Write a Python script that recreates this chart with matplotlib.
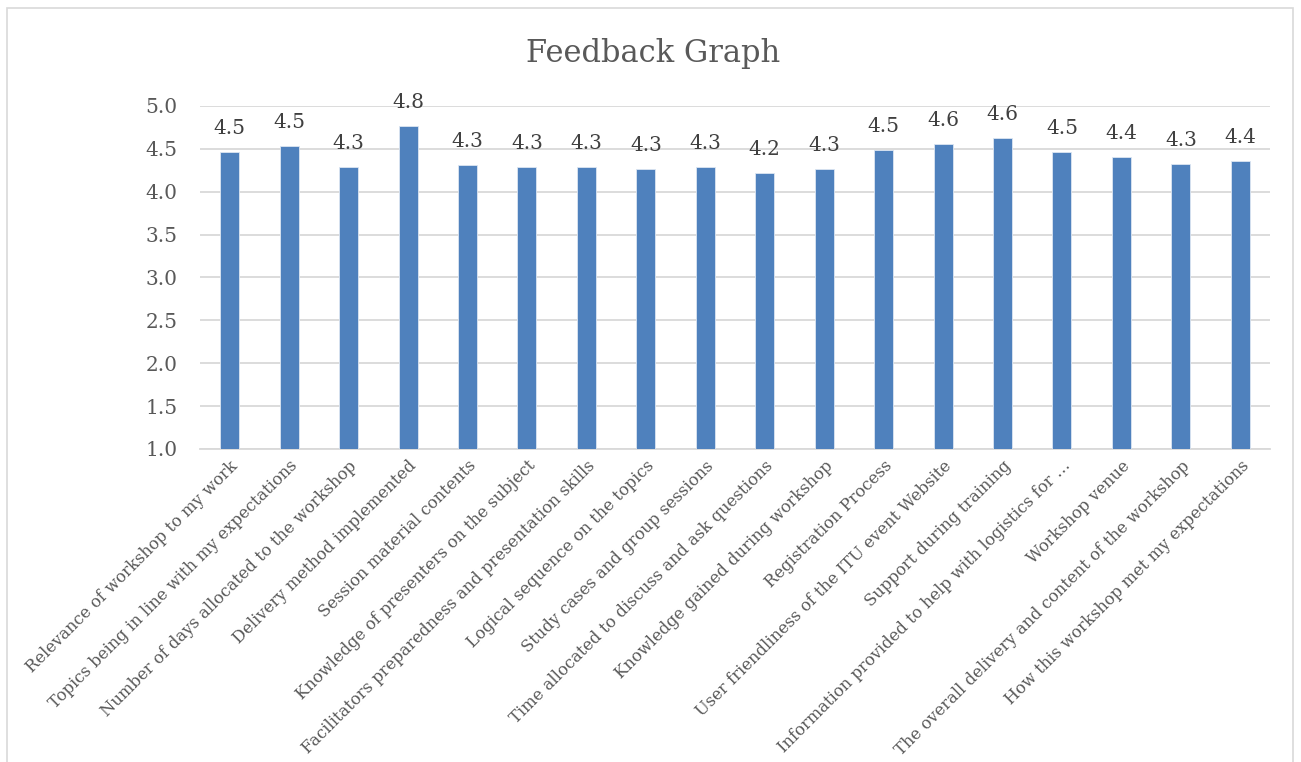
import matplotlib.pyplot as plt
import numpy as np

categories = [
    "Relevance of workshop to my work",
    "Topics being in line with my expectations",
    "Number of days allocated to the workshop",
    "Delivery method implemented",
    "Session material contents",
    "Knowledge of presenters on the subject",
    "Facilitators preparedness and presentation skills",
    "Logical sequence on the topics",
    "Study cases and group sessions",
    "Time allocated to discuss and ask questions",
    "Knowledge gained during workshop",
    "Registration Process",
    "User friendliness of the ITU event Website",
    "Support during training",
    "Information provided to help with logistics for …",
    "Workshop venue",
    "The overall delivery and content of the workshop",
    "How this workshop met my expectations",
]
scores = [4.46, 4.53, 4.29, 4.77, 4.31, 4.29, 4.29, 4.26, 4.29, 4.22,
          4.26, 4.49, 4.56, 4.63, 4.46, 4.41, 4.32, 4.36]

y_ticks = [1.0, 1.5, 2.0, 2.5, 3.0, 3.5, 4.0, 4.5, 5.0]

txt = "#595959"
grid = "#D9D9D9"
bar_color = "#4F81BD"
plt.rcParams['font.family'] = ['DejaVu Serif']

fig = plt.figure(figsize=(13.01, 7.62), dpi=100)
ax = fig.add_axes([0.1537, 0.4108, 0.8225, 0.4501])

x = np.arange(len(categories))
bars = ax.bar(x, np.array(scores) - 1.0, bottom=1.0, width=0.32,
              color=bar_color, edgecolor="#DCE6F2", linewidth=0.6, zorder=3)

for xi, v in zip(x, scores):
    ax.annotate(f"{v:.1f}", (xi, v), xytext=(0, 13), textcoords="offset points",
                ha="center", va="baseline", fontsize=14.5, color="#404040")

ax.set_xlim(-0.5, len(categories) - 0.5)
ax.set_ylim(1.0, 5.0)
ax.set_yticks(y_ticks)
ax.set_yticklabels([f"{t:.1f}" for t in y_ticks])
ax.yaxis.grid(True, color=grid, linewidth=1.3, zorder=0)
ax.set_axisbelow(True)
for s in ["top", "right", "left"]:
    ax.spines[s].set_visible(False)
ax.spines["bottom"].set_color(grid)
ax.spines["bottom"].set_linewidth(1.3)
ax.tick_params(axis="y", length=0, labelsize=14.5, labelcolor=txt, pad=16)
ax.tick_params(axis="x", length=0, pad=6)
ax.set_xticks(x)
ax.set_xticklabels(categories, rotation=45, ha="right", rotation_mode="anchor",
                   fontsize=11.8, color=txt)

fig.text(0.502, 0.930, "Feedback Graph", ha="center", va="center",
         fontsize=22, color=txt)

# chart-area border
fig.patches.append(plt.Rectangle((7 / 1301, -0.01), 1286 / 1301, 1 - 8 / 762 + 0.01,
                                 transform=fig.transFigure, fill=False,
                                 edgecolor=grid, linewidth=1.2))

fig.savefig("out.png", dpi=100)
